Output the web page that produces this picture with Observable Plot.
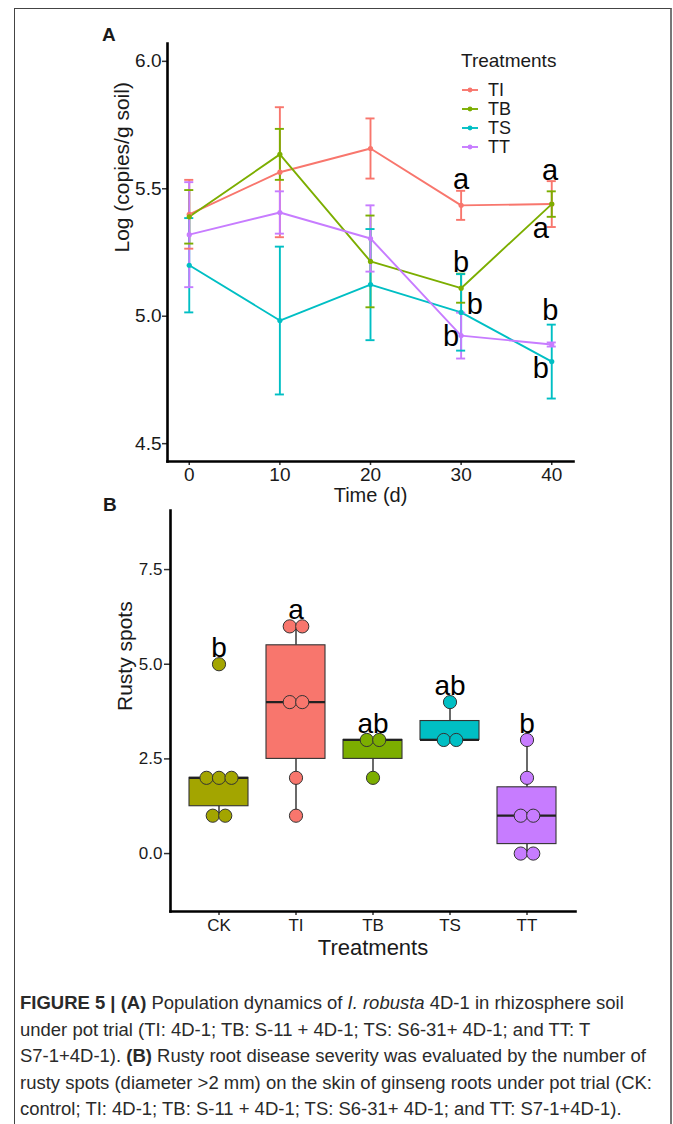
<!DOCTYPE html>
<html><head><meta charset="utf-8">
<script src="https://cdn.jsdelivr.net/npm/d3@7"></script>
<script src="https://cdn.jsdelivr.net/npm/@observablehq/plot@0.6"></script>
<style>
html,body{margin:0;padding:0;background:#fff;}
body{width:673px;height:1124px;position:relative;overflow:hidden;font-family:"Liberation Sans",Arial,sans-serif;color:#1a1a1a;}
#frame{position:absolute;left:14px;top:8px;width:655px;height:1140px;border-top:1.5px solid #444;border-left:1.5px solid #444;border-right:2px solid #777;}
.panel{position:absolute;left:0;}
.plabel{position:absolute;font-weight:bold;font-size:19px;line-height:19px;}
.leg{position:absolute;font-size:18px;line-height:20px;white-space:nowrap;}
#caption{position:absolute;left:20px;top:990px;font-size:17.5px;line-height:26.5px;color:#2a2a2a;white-space:nowrap;transform-origin:0 0;}
#panelA g[aria-label$="tick label"]{font-size:19px;}
#panelB g[aria-label$="tick label"]{font-size:17px;}
</style></head>
<body>
<div id="frame"></div>
<div id="panelA" class="panel" style="top:0"></div>
<div id="panelB" class="panel" style="top:500px"></div>
<div class="plabel" style="left:102px;top:25px">A</div>
<div class="plabel" style="left:103px;top:495px">B</div>
<div id="legend"></div>
<div id="caption">
<div class="cl"><b>FIGURE 5 | (A)</b> Population dynamics of <i>I. robusta</i> 4D-1 in rhizosphere soil</div>
<div class="cl">under pot trial (TI: 4D-1; TB: S-11 + 4D-1; TS: S6-31+ 4D-1; and TT: T</div>
<div class="cl">S7-1+4D-1). <b>(B)</b> Rusty root disease severity was evaluated by the number of</div>
<div class="cl">rusty spots (diameter &gt;2 mm) on the skin of ginseng roots under pot trial (CK:</div>
<div class="cl">control; TI: 4D-1; TB: S-11 + 4D-1; TS: S6-31+ 4D-1; and TT: S7-1+4D-1).</div>
</div>
<script>
// ---------- Panel A data ----------
const times = [0, 10, 20, 30, 40];
const treatments = ["TI", "TB", "TS", "TT"];
const treatmentColors = ["#F8766D", "#7CAE00", "#00BFC4", "#C77CFF"];
const meanTI = [5.40, 5.565, 5.658, 5.435, 5.44];
const errTI  = [0.135, 0.255, 0.118, 0.057, 0.09];
const meanTB = [5.39, 5.635, 5.215, 5.11, 5.44];
const errTB  = [0.105, 0.10, 0.18, 0.057, 0.05];
const meanTS = [5.20, 4.983, 5.124, 5.015, 4.822];
const errTS  = [0.185, 0.29, 0.218, 0.15, 0.145];
const meanTT = [5.32, 5.407, 5.305, 4.924, 4.889];
const errTT  = [0.206, 0.083, 0.13, 0.09, 0.008];
const letterTime  = [30, 30, 31.5, 28.9, 39.8, 38.8, 39.85, 38.8];
const letterValue = [5.535, 5.211, 5.046, 4.92, 5.572, 5.344, 5.022, 4.795];
const letterText  = ["a", "b", "b", "b", "a", "a", "b", "b"];
const yTicksA = [4.5, 5.0, 5.5, 6.0];

// ---------- Panel B data ----------
const groups = ["CK", "TI", "TB", "TS", "TT"];
const groupColors = ["#A3A500", "#F8766D", "#7CAE00", "#00BFC4", "#C77CFF"];
const spotsCK = [1, 1, 2, 2, 2, 5];
const spotsTI = [1, 2, 4, 4, 6, 6];
const spotsTB = [2, 3, 3];
const spotsTS = [3, 3, 4];
const spotsTT = [0, 0, 1, 1, 2, 3];
const groupLetters = ["b", "a", "ab", "ab", "b"];
const yTicksB = [0, 2.5, 5.0, 7.5];

const FONT = "Liberation Sans, Arial, Helvetica, sans-serif";

// build panel A table
const means = [meanTI, meanTB, meanTS, meanTT];
const errs = [errTI, errTB, errTS, errTT];
const series = [];
treatments.forEach((trt, i) => times.forEach((t, j) => series.push({trt, t, m: means[i][j], e: errs[i][j]})));
const letters = letterText.map((s, i) => ({t: letterTime[i], v: letterValue[i], s}));

const capHalf = 0.5;
const chartA = Plot.plot({
  width: 673, height: 500,
  marginLeft: 167, marginRight: 100, marginTop: 43, marginBottom: 39,
  style: {fontFamily: FONT, fontSize: "18px", color: "#1a1a1a", background: "transparent", overflow: "visible"},
  x: {domain: [-2.4, 42.4]},
  y: {domain: [4.43, 6.07]},
  color: {domain: treatments, range: treatmentColors},
  marks: [
    Plot.axisX({ticks: times, tickSize: 4, tickPadding: 2, label: null, stroke: "#333", strokeWidth: 1.5, fontSize: 19, fill: "#1a1a1a"}),
    Plot.axisY({ticks: yTicksA, tickFormat: ".1f", tickSize: 5, tickPadding: 1, label: null, stroke: "#333", strokeWidth: 1.5, fontSize: 19, fill: "#1a1a1a"}),
    Plot.text(["Time (d)"], {frameAnchor: "bottom", dy: 34, fontSize: 20, lineAnchor: "middle"}),
    Plot.text(["Log (copies/g soil)"], {frameAnchor: "left", dx: -45, rotate: -90, fontSize: 21, lineAnchor: "middle"}),
    Plot.line(series, {x: "t", y: "m", stroke: "trt", z: "trt", strokeWidth: 1.9}),
    Plot.ruleX(series, {x: "t", y1: d => d.m - d.e, y2: d => d.m + d.e, stroke: "trt", strokeWidth: 1.9}),
    Plot.ruleY(series, {y: d => d.m + d.e, x1: d => d.t - capHalf, x2: d => d.t + capHalf, stroke: "trt", strokeWidth: 1.9}),
    Plot.ruleY(series, {y: d => d.m - d.e, x1: d => d.t - capHalf, x2: d => d.t + capHalf, stroke: "trt", strokeWidth: 1.9}),
    Plot.dot(series, {x: "t", y: "m", fill: "trt", r: 2.6}),
    Plot.text(letters, {x: "t", y: "v", text: "s", fontSize: 29, fill: "#000", lineAnchor: "middle"}),
    Plot.frame({anchor: "left", stroke: "#000", strokeWidth: 2.6}),
    Plot.frame({anchor: "bottom", stroke: "#000", strokeWidth: 2.6})
  ]
});
document.getElementById("panelA").append(chartA);

// legend
const leg = document.getElementById("legend");
const title = document.createElement("div");
title.className = "leg"; title.style.left = "461px"; title.style.top = "51px"; title.style.fontSize = "19px";
title.textContent = "Treatments";
leg.append(title);
treatments.forEach((trt, i) => {
  const yc = 90 + i * 19;
  const key = d3.create("svg").attr("width", 18).attr("height", 8)
    .style("position", "absolute").style("left", "461px").style("top", (yc - 4) + "px");
  key.append("line").attr("x1", 1).attr("x2", 17).attr("y1", 4).attr("y2", 4).attr("stroke", treatmentColors[i]).attr("stroke-width", 1.9);
  key.append("circle").attr("cx", 9).attr("cy", 4).attr("r", 2.4).attr("fill", treatmentColors[i]);
  leg.append(key.node());
  const lab = document.createElement("div");
  lab.className = "leg"; lab.style.left = "488px"; lab.style.top = (yc - 10) + "px";
  lab.textContent = trt;
  leg.append(lab);
});

// ---------- Panel B ----------
const spots = [spotsCK, spotsTI, spotsTB, spotsTS, spotsTT];
const stats = groups.map((g, i) => {
  const v = spots[i].slice().sort(d3.ascending);
  const q1 = d3.quantile(v, 0.25), med = d3.quantile(v, 0.5), q3 = d3.quantile(v, 0.75);
  const iqr = q3 - q1;
  const inside = v.filter(x => x >= q1 - 1.5 * iqr && x <= q3 + 1.5 * iqr);
  return {g, q1, med, q3, lo: d3.min(inside), hi: d3.max(inside), max: d3.max(v), letter: groupLetters[i]};
});
const points = [];
groups.forEach((g, i) => {
  const counts = d3.rollup(spots[i], v => v.length, d => d);
  const seen = new Map();
  spots[i].forEach(val => {
    const n = counts.get(val); const k = seen.get(val) || 0; seen.set(val, k + 1);
    points.push({g, val, off: k - (n - 1) / 2});
  });
});
const offsets = Array.from(new Set(points.map(d => d.off))).sort(d3.ascending);
const spacing = 12.5;

const chartB = Plot.plot({
  width: 673, height: 460,
  marginLeft: 170, marginRight: 98, marginTop: 10, marginBottom: 49,
  style: {fontFamily: FONT, fontSize: "16px", color: "#1a1a1a", background: "transparent", overflow: "visible"},
  x: {domain: groups, paddingInner: 0.24, paddingOuter: 0.22},
  y: {domain: [-1.53, 9.06]},
  color: {domain: groups, range: groupColors},
  marks: [
    Plot.axisX({tickSize: 4, tickPadding: 3, label: null, stroke: "#333", strokeWidth: 1.5, fontSize: 17, fill: "#1a1a1a"}),
    Plot.axisY({ticks: yTicksB, tickFormat: ".1f", tickSize: 6, tickPadding: 2, label: null, stroke: "#333", strokeWidth: 1.5, fontSize: 17, fill: "#1a1a1a"}),
    Plot.text(["Treatments"], {frameAnchor: "bottom", dy: 36, fontSize: 22, lineAnchor: "middle"}),
    Plot.text(["Rusty spots"], {frameAnchor: "left", dx: -45, rotate: -90, fontSize: 21, lineAnchor: "middle"}),
    Plot.ruleX(stats, {x: "g", y1: "lo", y2: "q1", stroke: "#444", strokeWidth: 1.6}),
    Plot.ruleX(stats, {x: "g", y1: "q3", y2: "hi", stroke: "#444", strokeWidth: 1.6}),
    Plot.barY(stats, {x: "g", y1: "q1", y2: "q3", fill: "g", stroke: "#333", strokeWidth: 1.1}),
    Plot.tickY(stats, {x: "g", y: "med", stroke: "#222", strokeWidth: 2.3}),
    ...offsets.map(o => Plot.dot(points.filter(d => d.off === o), {x: "g", y: "val", fill: "g", stroke: "#333", strokeWidth: 1, r: 6.6, dx: o * spacing})),
    Plot.text(stats, {x: "g", y: "max", text: "letter", dy: -16, fontSize: 28, fill: "#000", lineAnchor: "middle"}),
    Plot.frame({anchor: "left", stroke: "#000", strokeWidth: 2.6}),
    Plot.frame({anchor: "bottom", stroke: "#000", strokeWidth: 2.6})
  ]
});
document.getElementById("panelB").append(chartB);

// caption: fit line 4 to its width in the reference
const cap = document.getElementById("caption");
const lines = cap.querySelectorAll(".cl");
const span = document.createElement("span");
span.innerHTML = lines[3].innerHTML; span.style.whiteSpace = "nowrap";
lines[3].innerHTML = ""; lines[3].append(span);
const sw = span.getBoundingClientRect().width;
cap.style.transform = `scaleX(${632 / sw})`;
</script>
</body></html>
